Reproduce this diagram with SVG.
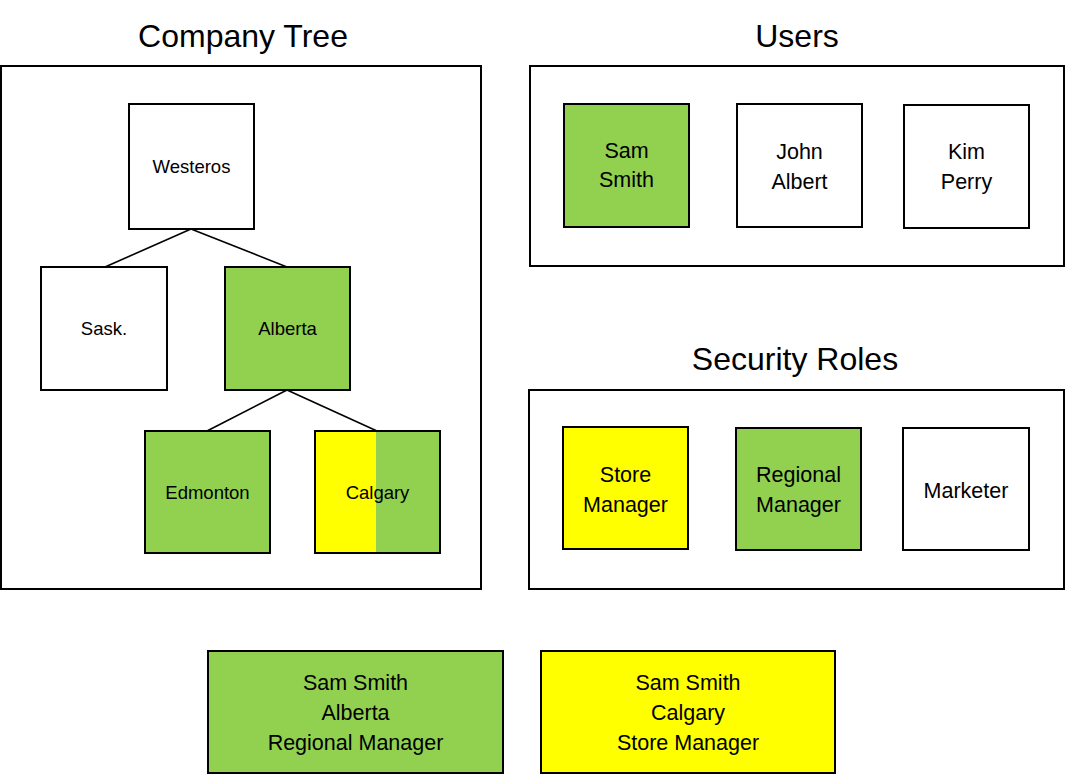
<svg xmlns="http://www.w3.org/2000/svg" width="1066" height="775" viewBox="0 0 1066 775">
<style>
text{font-family:"Liberation Sans",Arial,sans-serif;fill:#000;text-anchor:middle}
.title{font-size:32px}
.small{font-size:18.5px}
.big{font-size:21.5px}
.frame{fill:#fff;stroke:#000;stroke-width:2}
.w{fill:#fff;stroke:#000;stroke-width:2}
.g{fill:#92D050;stroke:#000;stroke-width:2}
.y{fill:#FFFF00;stroke:#000;stroke-width:2}
.conn{stroke:#000;stroke-width:1.6;fill:none}
</style>
<rect width="1066" height="775" fill="#fff"/>
<g id="titles">
<text class="title" x="243" y="47">Company Tree</text>
<text class="title" x="797" y="47">Users</text>
<text class="title" x="795" y="370">Security Roles</text>
</g>
<g id="frames">
<rect class="frame" x="1" y="66" width="480" height="523"/>
<rect class="frame" x="530" y="66" width="534" height="200"/>
<rect class="frame" x="529" y="390" width="535" height="199"/>
</g>
<g id="connectors">
<line class="conn" x1="191" y1="229" x2="105" y2="267"/>
<line class="conn" x1="191" y1="229" x2="287" y2="267"/>
<line class="conn" x1="287" y1="390" x2="207" y2="431"/>
<line class="conn" x1="287" y1="390" x2="377" y2="431"/>
</g>
<g id="westeros"><rect class="w" x="129" y="104" width="125" height="125"/><text class="small" x="191.5" y="173">Westeros</text></g>
<g id="sask"><rect class="w" x="41" y="267" width="126" height="123"/><text class="small" x="104" y="335">Sask.</text></g>
<g id="alberta"><rect class="g" x="225" y="267" width="125" height="123"/><text class="small" x="287.5" y="335">Alberta</text></g>
<g id="edmonton"><rect class="g" x="145" y="431" width="125" height="122"/><text class="small" x="207.5" y="499">Edmonton</text></g>
<g id="calgary"><rect fill="#92D050" x="315" y="431" width="125" height="122"/><rect fill="#FFFF00" x="315" y="431" width="61" height="122"/><rect x="315" y="431" width="125" height="122" fill="none" stroke="#000" stroke-width="2"/><text class="small" x="377.5" y="499">Calgary</text></g>
<g id="sam-smith"><rect class="g" x="564" y="104" width="125" height="123"/><text class="big" x="626.5" y="158">Sam</text><text class="big" x="626.5" y="187">Smith</text></g>
<g id="john-albert"><rect class="w" x="737" y="104" width="125" height="123"/><text class="big" x="799.5" y="159">John</text><text class="big" x="799.5" y="189">Albert</text></g>
<g id="kim-perry"><rect class="w" x="904" y="105" width="125" height="123"/><text class="big" x="966.5" y="159">Kim</text><text class="big" x="966.5" y="189">Perry</text></g>
<g id="store-manager"><rect class="y" x="563" y="427" width="125" height="122"/><text class="big" x="625.5" y="482">Store</text><text class="big" x="625.5" y="512">Manager</text></g>
<g id="regional-manager"><rect class="g" x="736" y="428" width="125" height="122"/><text class="big" x="798.5" y="482">Regional</text><text class="big" x="798.5" y="512">Manager</text></g>
<g id="marketer"><rect class="w" x="903" y="428" width="126" height="122"/><text class="big" x="966" y="498">Marketer</text></g>
<g id="result-alberta"><rect class="g" x="208" y="651" width="295" height="122"/><text class="big" x="355.5" y="690">Sam Smith</text><text class="big" x="355.5" y="720">Alberta</text><text class="big" x="355.5" y="750">Regional Manager</text></g>
<g id="result-calgary"><rect class="y" x="541" y="651" width="294" height="122"/><text class="big" x="688" y="690">Sam Smith</text><text class="big" x="688" y="720">Calgary</text><text class="big" x="688" y="750">Store Manager</text></g>
</svg>
